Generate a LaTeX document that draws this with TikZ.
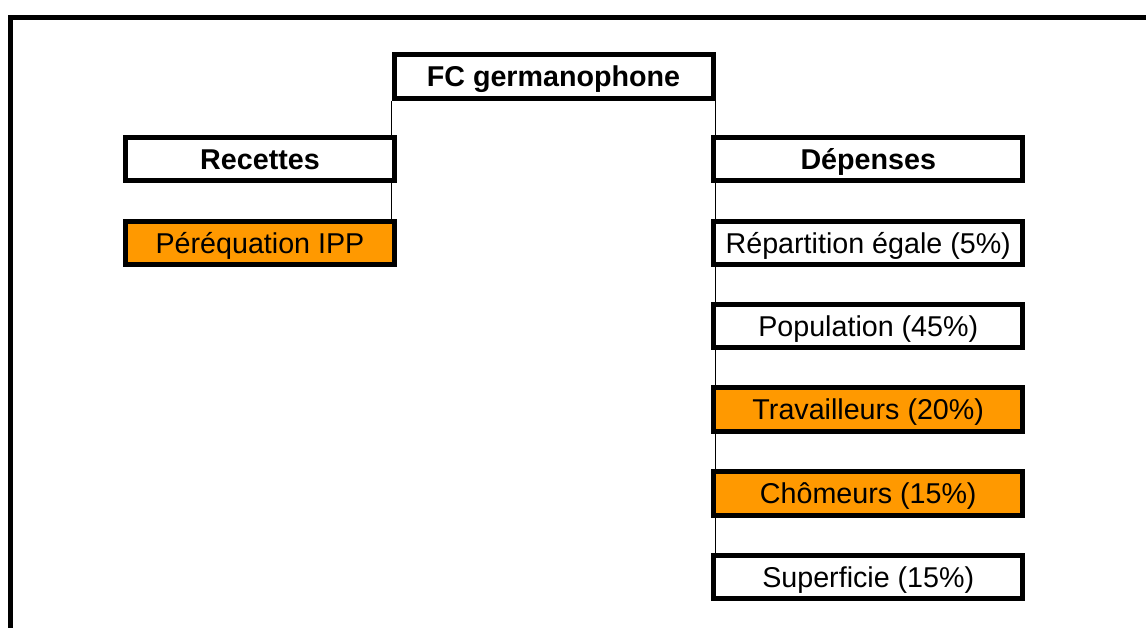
\documentclass[tikz,border=0pt]{standalone}
\usepackage{fontspec}
\setmainfont{Liberation Sans}
\definecolor{cellorange}{RGB}{255,153,0}
\tikzset{
  cell/.style={draw=black, line width=3.75pt, fill=white, rectangle, inner sep=0pt,
    minimum height=32.5pt, text height=19.5pt, text depth=4.1pt,
    font=\fontsize{21.5}{26}\selectfont},
  leftcell/.style={cell, minimum width=201.75pt},
  rightcell/.style={cell, minimum width=232pt},
  hot/.style={fill=cellorange},
  link/.style={line width=1.2pt}
}
\begin{document}
\begin{tikzpicture}[x=0.75pt,y=0.75pt,yscale=-1,xscale=1]
\useasboundingbox (0,0) rectangle (1146,628);

%Shape: Frame
\draw [line width=3.75pt] (10.5,628) -- (10.5,17.5) -- (1146,17.5);

%Shape: Rectangle (head)
\node [cell, minimum width=239.25pt, font=\fontsize{21.5}{26}\selectfont\bfseries] (fc) at (553.5,76.5) {FC germanophone};

%Shape: Rectangle (left column)
\node [leftcell, font=\fontsize{21.5}{26}\selectfont\bfseries] (rec) at (260,159) {Recettes};
\node [leftcell, hot] (pereq) at (260,243) {Péréquation IPP};

%Shape: Rectangle (right column)
\node [rightcell, font=\fontsize{21.5}{26}\selectfont\bfseries] (dep) at (868.25,159) {Dépenses};
\node [rightcell] (repart) at (868.25,243) {Répartition égale (5\%)};
\node [rightcell] (pop) at (868.25,326) {Population (45\%)};
\node [rightcell, hot] (trav) at (868.25,409.5) {Travailleurs (20\%)};
\node [rightcell, hot] (chom) at (868.25,493.5) {Chômeurs (15\%)};
\node [rightcell] (superf) at (868.25,577) {Superficie (15\%)};

%Shape: Lines
\draw [link] (fc.south west) -- (fc.south west |- rec.north);
\draw [link] (fc.south west |- rec.south) -- (fc.south west |- pereq.north);
\draw [link] (fc.south east) -- (fc.south east |- dep.north);
\foreach \a/\b in {dep/repart, repart/pop, pop/trav, trav/chom, chom/superf}
  \draw [link] (fc.south east |- \a.south) -- (fc.south east |- \b.north);
\end{tikzpicture}
\end{document}
